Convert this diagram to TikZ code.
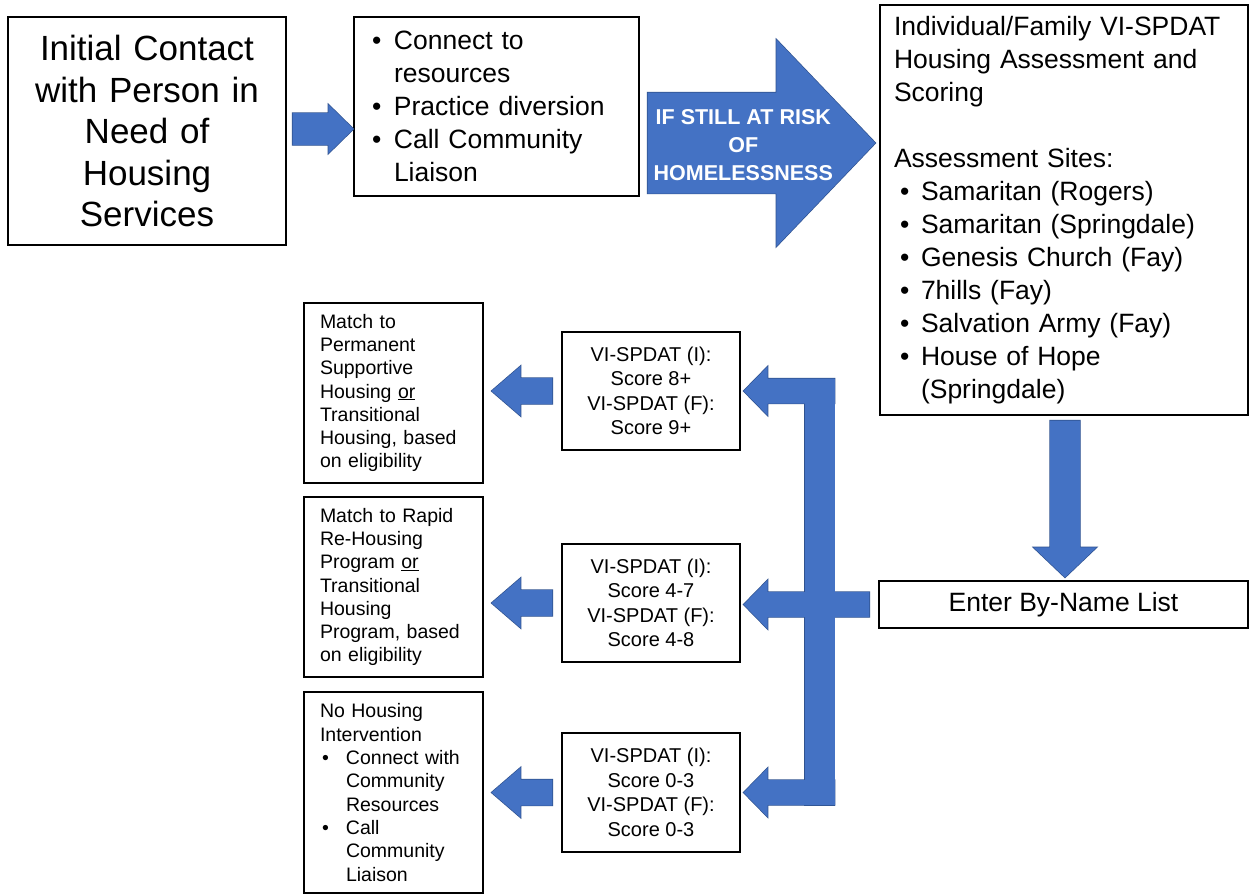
\documentclass[tikz,border=0pt]{standalone}
\usepackage{fontspec}
\setmainfont{Liberation Sans}
\usetikzlibrary{calc,positioning}
\definecolor{arrowblue}{RGB}{68,114,196}
\definecolor{arrowedge}{RGB}{47,82,143}
\newcommand{\bul}[1][22pt]{\makebox[#1][l]{\textbullet}}
\newcommand{\hang}[1][22pt]{\hspace*{#1}}
% style, tail, tip, shaft half, head half, head length
\newcommand{\barrow}[6]{%
  \coordinate (hb) at ($(#3)!#6!(#2)$);
  \path[#1] ($(#2)!#4!90:(#3)$) -- ($(hb)!#4!-90:(#2)$) -- ($(hb)!#5!-90:(#2)$) -- (#3)
    -- ($(hb)!#5!90:(#2)$) -- ($(hb)!#4!90:(#2)$) -- ($(#2)!#4!-90:(#3)$) -- cycle;}

\begin{document}
\begin{tikzpicture}[x=1pt, y=-1pt,
    box/.style = {draw, line width=1.2pt, inner ysep=0pt},
    bigtxt/.style = {font=\fontsize{35pt}{41.5pt}\selectfont},
    midtxt/.style = {font=\fontsize{26.5pt}{33pt}\selectfont},
    scoretxt/.style = {font=\fontsize{20pt}{24.5pt}\selectfont},
    smalltxt/.style = {font=\fontsize{19.5pt}{23.3pt}\selectfont},
    arredge/.style = {draw=arrowedge, fill=arrowedge, line width=1.4pt},
    arrfill/.style = {fill=arrowblue}]
    \path[fill=white] (0,0) rectangle (1250,895);
    \useasboundingbox (0,0) rectangle (1250,895);

    % top row
    \node[box, bigtxt, minimum width=278pt, minimum height=228pt, text width=270pt, align=center] (init) at (147,131)
        {Initial Contact\\with Person in\\Need of\\Housing\\Services};
    \node[box, midtxt, minimum width=285pt, minimum height=179pt, inner xsep=18pt, text width=249pt, align=left] (opts) at (496.5,106.5)
        {\bul Connect to\\\hang resources\\\bul Practice diversion\\\bul Call Community\\\hang Liaison};
    \node[box, midtxt, minimum width=368pt, minimum height=410pt, inner xsep=14pt, text width=340pt, align=left] (assess) at (1064,210)
        {Individual/Family VI-SPDAT\\Housing Assessment and\\Scoring\\\mbox{}\\Assessment Sites:\\
         \hspace*{6pt}\bul[21pt]Samaritan (Rogers)\\
         \hspace*{6pt}\bul[21pt]Samaritan (Springdale)\\
         \hspace*{6pt}\bul[21pt]Genesis Church (Fay)\\
         \hspace*{6pt}\bul[21pt]7hills (Fay)\\
         \hspace*{6pt}\bul[21pt]Salvation Army (Fay)\\
         \hspace*{6pt}\bul[21pt]House of Hope\\
         \hang[27pt](Springdale)};
    \node[box, midtxt, minimum width=369pt, minimum height=47pt] (byname) at (1063.5,604.5) {Enter By-Name List};

    % scores
    \node[box, scoretxt, minimum width=178pt, minimum height=118pt, align=center] (s1) at (651,391)
        {VI-SPDAT (I):\\Score 8+\\VI-SPDAT (F):\\Score 9+};
    \node[box, scoretxt, minimum width=178pt, minimum height=118pt, align=center] (s2) at (651,603)
        {VI-SPDAT (I):\\Score 4-7\\VI-SPDAT (F):\\Score 4-8};
    \node[box, scoretxt, minimum width=178pt, minimum height=119pt, align=center] (s3) at (651,792.5)
        {VI-SPDAT (I):\\Score 0-3\\VI-SPDAT (F):\\Score 0-3};

    % outcomes
    \node[box, smalltxt, minimum width=179pt, minimum height=180pt, inner xsep=16pt, text width=147pt, align=left] (m1) at (393.5,393)
        {Match to\\Permanent\\Supportive\\Housing \underline{or}\\Transitional\\Housing, based\\on eligibility};
    \node[box, smalltxt, minimum width=179pt, minimum height=180pt, inner xsep=16pt, text width=147pt, align=left] (m2) at (393.5,587)
        {Match to Rapid\\Re-Housing\\Program \underline{or}\\Transitional\\Housing\\Program, based\\on eligibility};
    \node[box, smalltxt, minimum width=179pt, minimum height=201pt, inner xsep=16pt, text width=147pt, align=left] (m3) at (393.5,792.5)
        {No Housing\\Intervention\\
         \hspace*{2pt}\bul[24pt]Connect with\\\hang[26pt]Community\\\hang[26pt]Resources\\
         \hspace*{2pt}\bul[24pt]Call\\\hang[26pt]Community\\\hang[26pt]Liaison};

    % arrow ends
    \coordinate (a1t) at ($(init.east)+(6,-2)$);
    \coordinate (a1h) at (opts.west |- a1t);
    \coordinate (bt) at ($(opts.east)+(8,36.5)$);
    \coordinate (bh) at ($(assess.west |- bt)+(-4,0)$);
    \coordinate (dt) at ($(assess.south)+(1,5)$);
    \coordinate (dh) at ($(dt |- byname.north)+(0,-3)$);
    \foreach \i in {1,2,3} {
        \coordinate (lt\i) at ($(s\i.west)+(-9,0)$);
        \coordinate (lh\i) at ($(m\i.east |- s\i.west)+(8,0)$);
    }
    \coordinate (rt1) at ($(s1.east)+(94,0)$);
    \coordinate (rh1) at ($(s1.east)+(3,0)$);
    \coordinate (rt2) at ($(byname.west)+(-9,0)$);
    \coordinate (rh2) at ($(s2.east |- byname.west)+(3,0)$);
    \coordinate (rt3) at ($(s3.east)+(94,0)$);
    \coordinate (rh3) at ($(s3.east)+(3,0)$);

    % block arrows, edge pass then fill pass
    \foreach \st in {arredge,arrfill} {
        \barrow{\st}{a1t}{a1h}{16pt}{24.5pt}{25pt}
        \barrow{\st}{bt}{bh}{50.5pt}{103.5pt}{99pt}
        \barrow{\st}{dt}{dh}{15pt}{31.5pt}{30pt}
        \foreach \i in {1,2,3} {
            \barrow{\st}{lt\i}{lh\i}{13pt}{25pt}{29pt}
            \barrow{\st}{rt\i}{rh\i}{12.5pt}{24.5pt}{24pt}
        }
        \path[\st] ($(s1.east)+(64,-12.5)$) rectangle ($(s3.east)+(94,12.5)$);
    }

    \node[text=white, font=\fontsize{21.5pt}{28pt}\selectfont\bfseries, align=center] (risk) at ($(bt)!0.42!(bh)+(0,2)$)
        {IF STILL AT RISK\\OF\\HOMELESSNESS};
\end{tikzpicture}
\end{document}
